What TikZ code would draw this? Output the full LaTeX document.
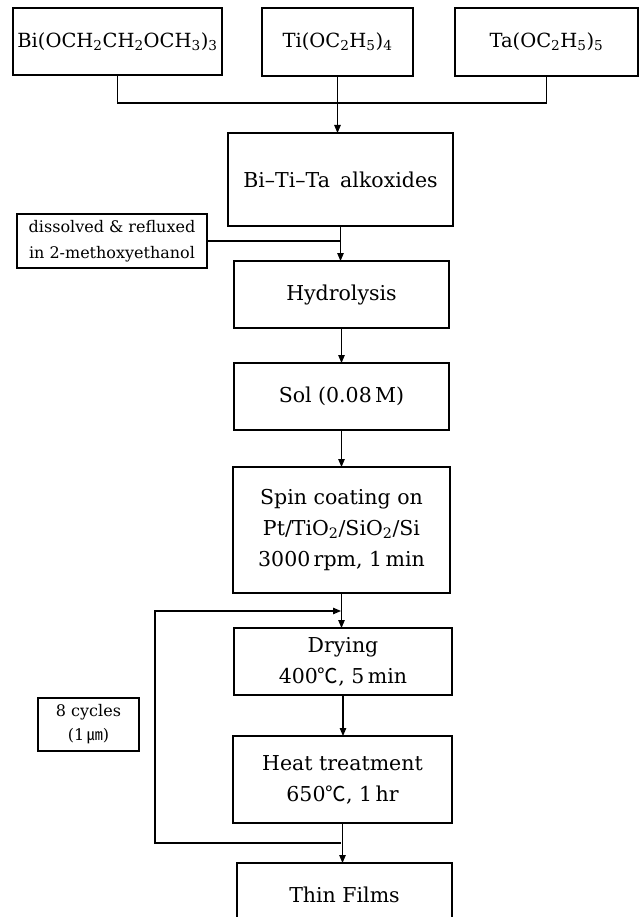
\documentclass[tikz,border=0pt]{standalone}
\usepackage{fontspec}
\setmainfont{DejaVu Serif}
\newfontfamily\cjk{Noto Sans CJK KR}
\usetikzlibrary{arrows.meta}
\newcommand{\sub}[1]{\textsubscript{#1}}
\begin{document}
\begin{tikzpicture}[x=1pt,y=-1pt,
  box/.style={draw, line width=1.1pt, inner sep=0pt, outer sep=0pt, align=center,
    font=\fontsize{20.5}{31}\selectfont},
  formbox/.style={box, font=\fontsize{19.5}{31}\selectfont},
  smallbox/.style={box, font=\fontsize{16}{26}\selectfont},
  conn/.style={line width=1.1pt},
  arr/.style={conn, -{Triangle[length=8pt,width=6.5pt]}}]
\useasboundingbox (0,0) rectangle (640,917);
% boxes
\node[formbox, minimum width=209pt, minimum height=67pt] (bi) at (117.5,41.5) {Bi(OCH\sub{2}CH\sub{2}OCH\sub{3})\sub{3}};
\node[formbox, minimum width=151pt, minimum height=68pt] (ti) at (337.5,42) {Ti(OC\sub{2}H\sub{5})\sub{4}};
\node[formbox, minimum width=183pt, minimum height=68pt] (ta) at (546.5,42) {Ta(OC\sub{2}H\sub{5})\sub{5}};
\node[box, minimum width=225pt, minimum height=93pt] (alk) at (340.5,179.5) {Bi–Ti–Ta\hspace{0.5em}alkoxides};
\node[smallbox, minimum width=190pt, minimum height=54pt] (diss) at (112,241) {dissolved \& refluxed\\in 2-methoxyethanol};
\node[box, minimum width=215pt, minimum height=67pt] (hyd) at (341.5,294.5) {Hydrolysis};
\node[box, minimum width=215pt, minimum height=67pt] (sol) at (341.5,396.5) {Sol (0.08\,M)};
\node[box, minimum width=217pt, minimum height=126pt] (spin) at (341.5,530) {Spin coating on\\Pt/TiO\sub{2}/SiO\sub{2}/Si\\3000\,rpm, 1\,min};
\node[box, minimum width=218pt, minimum height=67pt] (dry) at (343,661.5) {Drying\\400{\cjk ℃}, 5\,min};
\node[box, minimum width=219pt, minimum height=87pt] (heat) at (342.5,779.5) {Heat treatment\\650{\cjk ℃}, 1\,hr};
\node[box, minimum width=215pt, minimum height=64pt] (thin) at (344.5,895) {Thin Films};
\node[smallbox, font=\fontsize{16}{24}\selectfont, minimum width=101pt, minimum height=53pt] (cyc) at (88.5,724.5) {8 cycles\\(1\,{\cjk ㎛})};
% joins
\coordinate (j) at (337.5,103);
\coordinate (lb) at (341,843);
\coordinate (lt) at (341,611);
\coordinate (lbl) at (155,843);
\coordinate (ltl) at (155,611);
% connectors
\draw[conn] (bi.south) |- (j) -| (ta.south);
\draw[arr] (ti.south) -- (ti.south |- alk.north);
\draw[arr] (alk.south) -- (alk.south |- hyd.north);
\draw[conn] (diss.east) -- (diss.east -| alk.south);
\draw[arr] (hyd.south) -- (hyd.south |- sol.north);
\draw[arr] (sol.south) -- (sol.south |- spin.north);
\draw[arr] (spin.south) -- (spin.south |- dry.north);
\draw[arr] (dry.south) -- (dry.south |- heat.north);
\draw[arr] (heat.south) -- (heat.south |- thin.north);
\draw[arr] (lb) -- (lbl) -- (ltl) -- (lt);
\end{tikzpicture}
\end{document}
